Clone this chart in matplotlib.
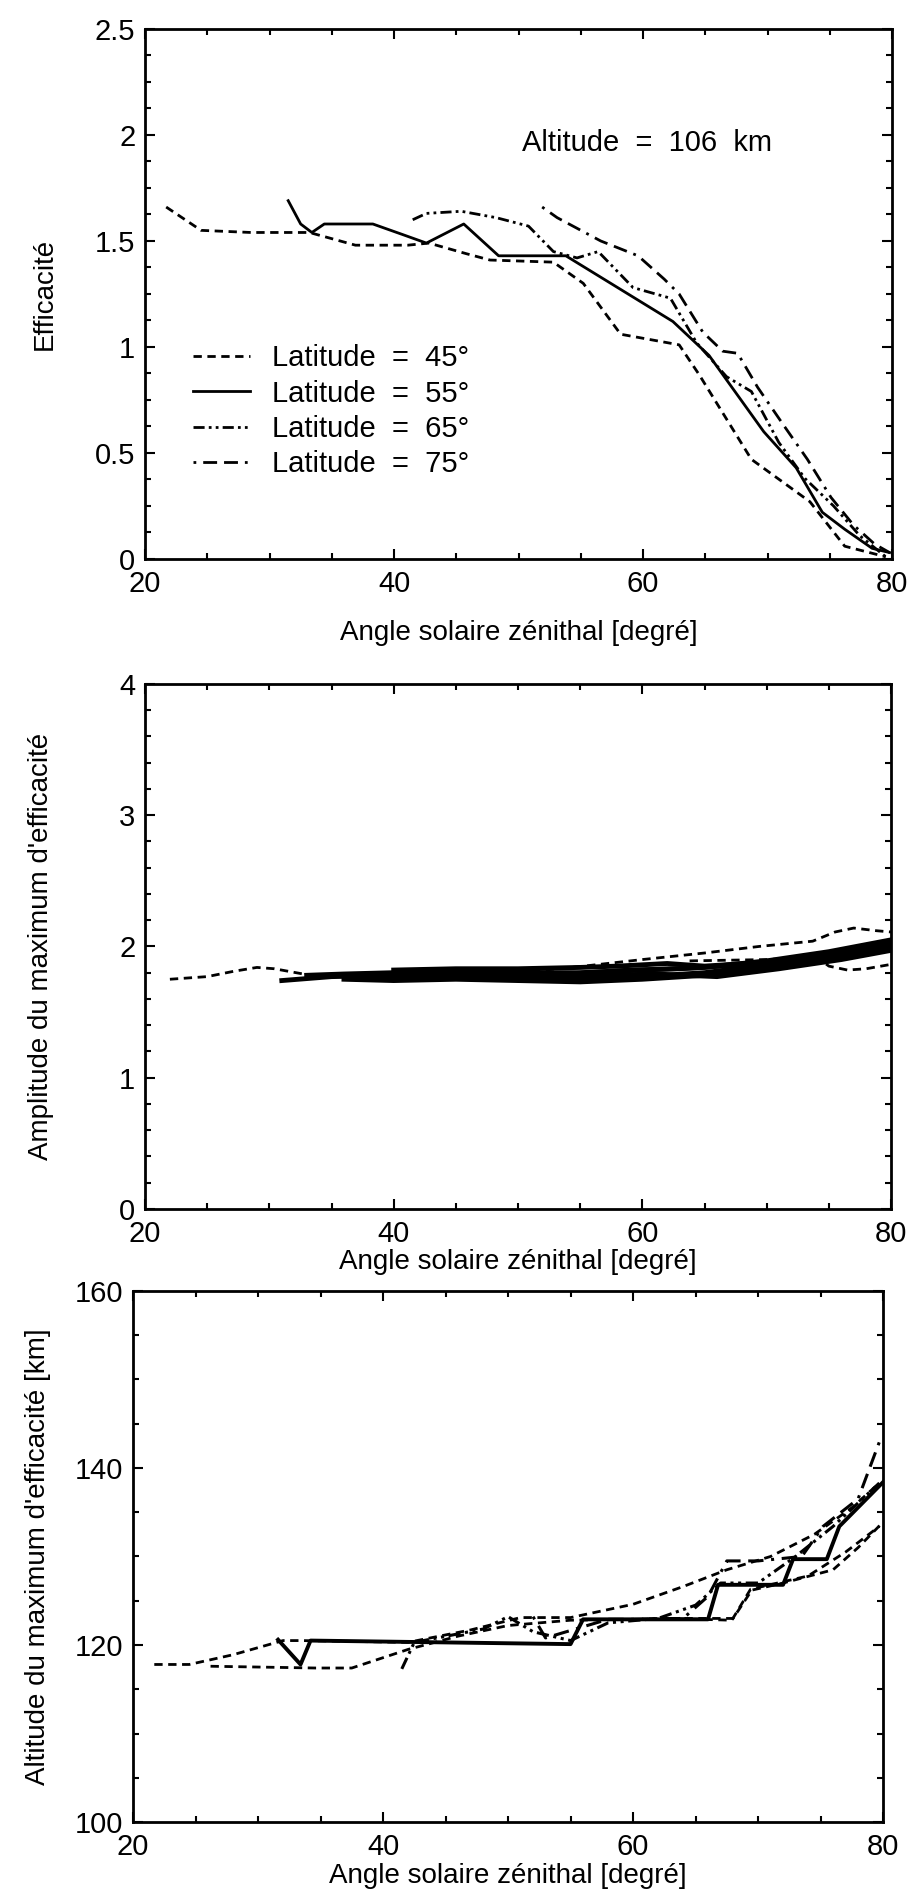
import matplotlib
matplotlib.use('Agg')
import matplotlib.pyplot as plt
import matplotlib.ticker as mtick

plt.rcParams['font.family'] = ['Liberation Sans', 'DejaVu Sans']

# --- panel 1: efficacite vs angle solaire zenithal, altitude 106 km
lat45_x = [21.7, 24.5, 28.5, 33.2, 36.9, 41.1, 42.8, 45.8, 47.7, 52.8, 55.2, 58.2, 62.9, 64.5, 68.7, 73.4, 76.2, 79.5]
lat45_y = [1.66, 1.55, 1.54, 1.54, 1.48, 1.48, 1.49, 1.44, 1.41, 1.40, 1.30, 1.06, 1.01, 0.87, 0.47, 0.27, 0.06, 0.01]
lat55_x = [31.5, 32.5, 33.4, 34.4, 38.3, 40.7, 42.6, 45.6, 48.4, 53.8, 62.4, 65.3, 69.7, 72.3, 74.4, 76.2, 78.4, 79.8]
lat55_y = [1.69, 1.58, 1.54, 1.58, 1.58, 1.53, 1.49, 1.58, 1.43, 1.43, 1.12, 0.96, 0.60, 0.43, 0.22, 0.14, 0.05, 0.03]
lat65_x = [41.5, 42.6, 45.4, 48.2, 50.8, 52.8, 54.7, 56.4, 59.2, 62.2, 64.3, 66.7, 68.7, 70.9, 73.0, 75.3, 77.4, 79.5]
lat65_y = [1.60, 1.63, 1.64, 1.61, 1.57, 1.45, 1.42, 1.45, 1.28, 1.23, 1.02, 0.86, 0.79, 0.55, 0.38, 0.25, 0.11, 0.01]
lat75_x = [51.9, 53.1, 56.6, 59.6, 61.7, 62.9, 64.8, 66.4, 67.6, 69.2, 71.3, 73.2, 75.1, 76.9, 78.6, 79.8]
lat75_y = [1.66, 1.61, 1.50, 1.43, 1.32, 1.25, 1.07, 0.98, 0.97, 0.81, 0.63, 0.47, 0.29, 0.16, 0.07, 0.03]

legend_labels = ['Latitude  =  45°', 'Latitude  =  55°', 'Latitude  =  65°', 'Latitude  =  75°']

# --- panel 2: amplitude du maximum d'efficacite
amp_dash_lo_x = [22.0, 25.0, 27.1, 29.0, 30.4, 33.3, 36.0]
amp_dash_lo_y = [1.75, 1.77, 1.81, 1.84, 1.83, 1.78, 1.78]
amp_dash_up_x = [50.0, 55.3, 60.0, 65.0, 69.4, 73.7, 75.5, 77.0, 78.8, 80.0]
amp_dash_up_y = [1.80, 1.85, 1.90, 1.95, 2.00, 2.04, 2.11, 2.14, 2.12, 2.11]
amp_dash_rt_x = [63.8, 70.0, 74.0, 75.0, 76.5, 78.0, 79.8]
amp_dash_rt_y = [1.89, 1.90, 1.92, 1.85, 1.82, 1.83, 1.86]
amp_b1_x = [31.0, 35.0, 40.0, 45.0, 50.0, 55.0, 60.0, 65.0, 70.0, 75.0, 80.0]
amp_b1_y = [1.74, 1.77, 1.78, 1.77, 1.76, 1.76, 1.77, 1.80, 1.86, 1.93, 2.02]
amp_b2_x = [33.0, 36.0, 40.0, 45.0, 50.0, 55.0, 60.0, 65.0, 70.0, 75.0, 80.0]
amp_b2_y = [1.78, 1.79, 1.80, 1.80, 1.80, 1.80, 1.82, 1.84, 1.89, 1.96, 2.05]
amp_b3_x = [36.0, 40.0, 45.0, 50.0, 55.0, 60.0, 65.0, 70.0, 75.0, 80.0]
amp_b3_y = [1.75, 1.74, 1.75, 1.74, 1.73, 1.75, 1.78, 1.84, 1.91, 1.99]
amp_b4_x = [40.0, 45.0, 50.0, 55.0, 58.0, 62.0, 65.0, 70.0, 75.0, 80.0]
amp_b4_y = [1.82, 1.83, 1.83, 1.84, 1.85, 1.87, 1.85, 1.88, 1.94, 2.03]
amp_b5_x = [37.0, 42.0, 47.0, 52.0, 57.0, 61.0, 66.0, 71.0, 76.0, 80.0]
amp_b5_y = [1.77, 1.76, 1.78, 1.77, 1.78, 1.79, 1.77, 1.83, 1.90, 1.97]
amp_b6_x = [44.0, 49.0, 54.0, 59.0, 63.0, 68.0, 73.0, 78.0, 80.0]
amp_b6_y = [1.79, 1.81, 1.79, 1.82, 1.83, 1.86, 1.92, 1.98, 2.04]

# --- panel 3: altitude du maximum d'efficacite [km]
alt_s1_x = [21.7, 24.5, 28.0, 32.0, 33.5, 42.0, 47.0, 51.0, 55.0, 60.0, 64.0, 67.5, 71.0, 74.5, 77.5, 79.7]
alt_s1_y = [117.8, 117.8, 118.9, 120.5, 120.5, 120.3, 121.7, 123.1, 123.1, 124.6, 126.6, 128.5, 130.0, 132.5, 135.5, 138.3]
alt_s2_x = [26.2, 34.6, 37.5, 42.0, 46.0, 50.0, 55.0, 60.0, 63.0, 67.9, 69.4, 74.0, 77.0, 79.7]
alt_s2_y = [117.6, 117.4, 117.4, 119.5, 121.0, 122.2, 122.8, 122.9, 123.0, 122.8, 126.3, 127.8, 130.5, 133.4]
alt_s3_x = [41.5, 42.5, 48.0, 50.0, 52.0, 55.0, 58.0, 62.0, 65.0, 67.0, 70.0, 73.0, 76.0, 79.7]
alt_s3_y = [117.3, 120.3, 121.8, 123.2, 121.5, 120.5, 122.5, 123.0, 124.5, 127.0, 127.0, 130.0, 133.4, 138.3]
alt_s4_x = [31.6, 33.4, 34.2, 55.0, 56.0, 66.0, 66.8, 72.0, 72.8, 75.5, 76.5, 80.0]
alt_s4_y = [120.6, 117.8, 120.5, 120.1, 122.9, 122.9, 126.8, 126.8, 129.7, 129.7, 133.4, 138.4]
alt_s5_x = [52.0, 53.0, 58.0, 60.0, 64.0, 66.0, 67.5, 70.0, 73.5, 75.2, 78.0, 79.8]
alt_s5_y = [123.2, 120.8, 122.9, 122.9, 123.0, 125.5, 129.5, 129.5, 130.0, 133.4, 136.5, 143.3]
alt_s6_x = [63.0, 68.0, 69.5, 72.0, 76.0, 78.0, 79.8]
alt_s6_y = [123.0, 123.0, 126.2, 127.0, 128.5, 131.0, 133.6]

LS45 = (0, (3, 2))
LS55 = '-'
LS65 = (0, (4, 1.5, 1, 1.5, 1, 1.5))
LS75 = (0, (1, 2.5, 5, 2.5, 5, 2.5))

XLABEL = 'Angle solaire zénithal [degré]'


def style_axes(ax, ymin, ymax, ymajor, yminor, ylabel, ylab_x, xlabpad=4):
    ax.set_xlim(20, 80)
    ax.set_ylim(ymin, ymax)
    ax.xaxis.set_major_locator(mtick.MultipleLocator(20))
    ax.xaxis.set_minor_locator(mtick.MultipleLocator(5))
    ax.yaxis.set_major_locator(mtick.MultipleLocator(ymajor))
    ax.yaxis.set_minor_locator(mtick.MultipleLocator(yminor))
    ax.yaxis.set_major_formatter(mtick.FormatStrFormatter('%g'))
    ax.tick_params(which='both', direction='in', top=True, right=True,
                   width=1.5, labelsize=21)
    ax.tick_params(which='major', length=7)
    ax.tick_params(which='minor', length=4)
    ax.tick_params(axis='y', pad=7)
    ax.tick_params(axis='x', pad=8)
    for sp in ax.spines.values():
        sp.set_linewidth(2)
    ax.set_xlabel(XLABEL, fontsize=20, labelpad=xlabpad)
    ax.set_ylabel(ylabel, fontsize=20)
    ax.yaxis.set_label_coords(ylab_x, 0.5)


fig = plt.figure(figsize=(9.15, 18.94), dpi=100)

# panel 1
ax1 = fig.add_axes([0.1585, 0.7049, 0.8164, 0.2798])
ax1.plot(lat45_x, lat45_y, color='black', lw=2, linestyle=LS45, label=legend_labels[0])
ax1.plot(lat55_x, lat55_y, color='black', lw=2, linestyle=LS55, label=legend_labels[1])
ax1.plot(lat65_x, lat65_y, color='black', lw=2, linestyle=LS65, label=legend_labels[2])
ax1.plot(lat75_x, lat75_y, color='black', lw=2, linestyle=LS75, label=legend_labels[3])
ax1.text(50.3, 1.96, 'Altitude  =  106  km', fontsize=21, va='center', ha='left')
ax1.legend(loc='upper left', bbox_to_anchor=(0.064, 0.405), frameon=False,
           fontsize=21, handlelength=1.95, handletextpad=0.75,
           labelspacing=0.25, borderpad=0, borderaxespad=0)
style_axes(ax1, 0, 2.5, 0.5, 0.125, 'Efficacité', -0.117, xlabpad=16)

# panel 2
ax2 = fig.add_axes([0.1585, 0.3617, 0.8153, 0.2772])
ax2.plot(amp_dash_lo_x, amp_dash_lo_y, color='black', lw=2, linestyle=LS45)
ax2.plot(amp_dash_up_x, amp_dash_up_y, color='black', lw=2, linestyle=LS45)
ax2.plot(amp_dash_rt_x, amp_dash_rt_y, color='black', lw=2, linestyle=LS45)
for bx, by in [(amp_b1_x, amp_b1_y), (amp_b2_x, amp_b2_y), (amp_b3_x, amp_b3_y),
               (amp_b4_x, amp_b4_y), (amp_b5_x, amp_b5_y), (amp_b6_x, amp_b6_y)]:
    ax2.plot(bx, by, color='black', lw=3.5)
style_axes(ax2, 0, 4, 1, 0.2, "Amplitude du maximum d'efficacité", -0.122, xlabpad=1)

# panel 3
ax3 = fig.add_axes([0.1454, 0.0380, 0.8197, 0.2804])
ax3.plot(alt_s1_x, alt_s1_y, color='black', lw=2, linestyle=LS45)
ax3.plot(alt_s2_x, alt_s2_y, color='black', lw=2, linestyle=LS45)
ax3.plot(alt_s3_x, alt_s3_y, color='black', lw=2.2, linestyle=LS65)
ax3.plot(alt_s4_x, alt_s4_y, color='black', lw=2.8, linestyle=LS55)
ax3.plot(alt_s5_x, alt_s5_y, color='black', lw=2.2, linestyle=LS75)
ax3.plot(alt_s6_x, alt_s6_y, color='black', lw=2, linestyle=LS45)
style_axes(ax3, 100, 160, 20, 5, "Altitude du maximum d'efficacité [km]", -0.11, xlabpad=1)

plt.savefig('out.png', dpi=100)
